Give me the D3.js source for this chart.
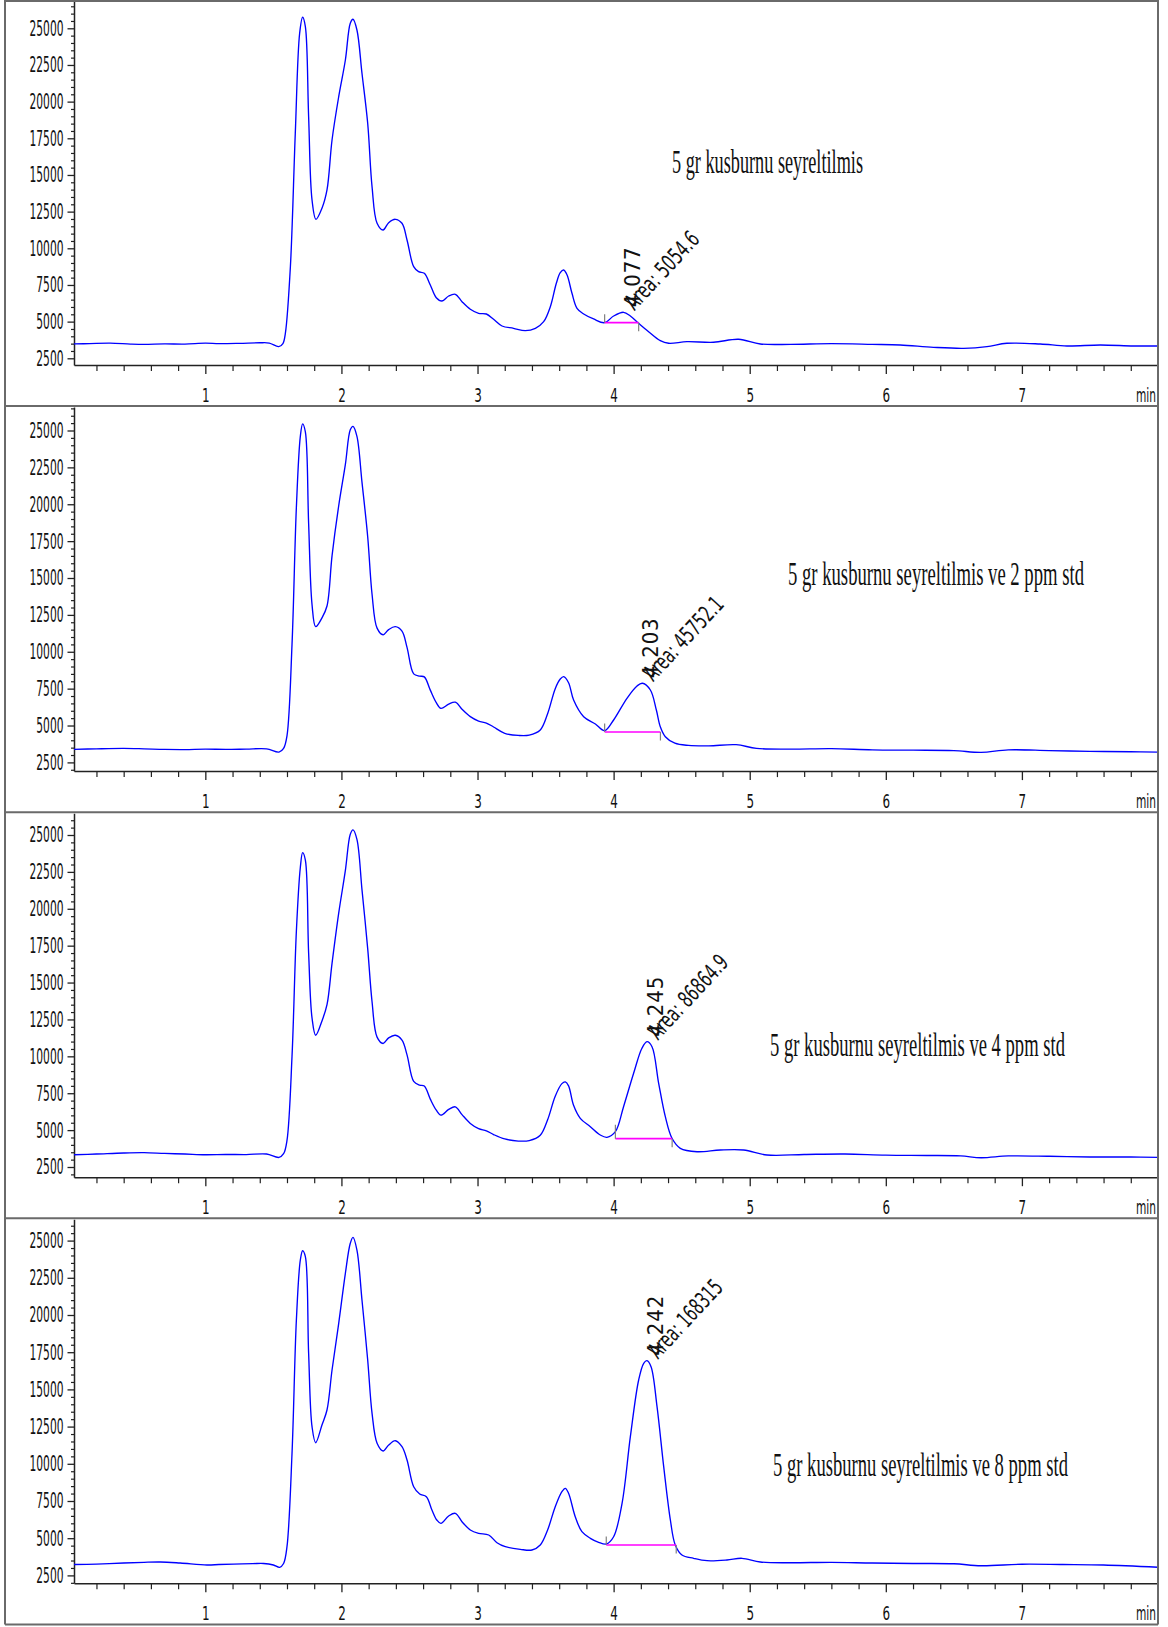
<!DOCTYPE html>
<html>
<head>
<meta charset="utf-8">
<script src="https://cdn.jsdelivr.net/npm/d3@7"></script>
<style>
  html, body { margin: 0; padding: 0; background: #fff; }
  svg { display: block; }
</style>
</head>
<body>
<script>
// ---------------- DATA ----------------
const panelTitles = [
  "5 gr kusburnu seyreltilmis",
  "5 gr kusburnu seyreltilmis ve 2 ppm std",
  "5 gr kusburnu seyreltilmis ve 4 ppm std",
  "5 gr kusburnu seyreltilmis ve 8 ppm std"
];
const rtLabels = ["4.077", "4.203", "4.245", "4.242"];
const areaLabels = ["Area: 5054.6", "Area: 45752.1", "Area: 86864.9", "Area: 168315"];
const apexTime = [4.073, 4.211, 4.245, 4.245];
const apexValue = [5636, 7863, 10992, 16928];
const integStart = [3.934, 3.934, 4.013, 3.946];
const integEnd = [4.184, 4.344, 4.43, 4.46];
const integLevel = [4930, 4560, 4420, 4545];

const yTickValues = [2500, 5000, 7500, 10000, 12500, 15000, 17500, 20000, 22500, 25000];
const yTickLabels = ["2500", "5000", "7500", "10000", "12500", "15000", "17500", "20000", "22500", "25000"];
const xTickValues = [1, 2, 3, 4, 5, 6, 7];
const xTickLabels = ["1", "2", "3", "4", "5", "6", "7"];
const xUnit = "min";
const xDomain = [0.035, 8.0];
const yDomains = [[2043, 26861], [1910, 26586], [1809, 26477], [1969, 26431]];

// Panel 1 : sample only
const time1 = [0.035,0.15,0.3,0.45,0.55,0.7,0.85,1.0,1.1,1.25,1.4,1.47,1.539,1.57,1.588,1.625,1.661,1.693,1.715,1.735,1.759,1.784,1.813,1.857,1.894,1.931,1.98,2.029,2.065,2.085,2.114,2.151,2.193,2.225,2.262,2.306,2.347,2.396,2.445,2.482,2.531,2.567,2.609,2.653,2.697,2.739,2.788,2.837,2.886,2.947,3.008,3.065,3.118,3.18,3.265,3.351,3.425,3.486,3.535,3.579,3.608,3.633,3.658,3.694,3.731,3.78,3.853,3.934,4.0,4.073,4.123,4.184,4.257,4.343,4.404,4.539,4.735,4.918,5.078,5.3,5.6,5.9,6.106,6.351,6.572,6.743,6.89,7.135,7.331,7.576,7.82,8.0];
const signal1 = [3480,3500,3530,3470,3450,3480,3470,3530,3500,3520,3560,3540,3292,3500,4204,8747,17841,24659,25750,25110,18973,13293,11977,12727,13975,17384,20337,22839,25341,25614,24884,21932,18523,14200,11705,11248,11746,11977,11705,10566,8747,8406,8297,7498,6632,6407,6748,6864,6360,5842,5568,5520,5159,4702,4546,4383,4546,4996,6018,7613,8338,8520,8180,6932,5910,5520,5180,4928,5384,5636,5384,4887,4315,3701,3524,3632,3591,3796,3476,3450,3500,3450,3407,3248,3180,3292,3524,3476,3340,3407,3340,3340];

// Panel 2 : sample + 2 ppm std
const time2 = [0.035,0.2,0.4,0.55,0.7,0.85,1.0,1.15,1.3,1.45,1.541,1.575,1.6,1.637,1.669,1.698,1.715,1.735,1.759,1.784,1.811,1.857,1.894,1.931,1.98,2.029,2.065,2.085,2.114,2.151,2.193,2.225,2.262,2.306,2.347,2.396,2.445,2.482,2.531,2.575,2.609,2.653,2.697,2.731,2.788,2.837,2.886,2.947,3.008,3.065,3.118,3.2,3.3,3.38,3.461,3.515,3.571,3.608,3.633,3.669,3.706,3.78,3.866,3.934,4.0,4.098,4.172,4.211,4.27,4.314,4.343,4.38,4.45,4.55,4.7,4.9,5.05,5.3,5.6,5.9,6.2,6.5,6.7,6.9,7.2,7.5,7.8,8.0];
const signal2 = [3380,3420,3450,3420,3380,3370,3400,3380,3400,3420,3200,3450,4300,10500,19800,24600,25450,24900,18700,13200,11700,12300,13100,16500,19900,22700,25050,25280,24600,21500,17800,13900,11600,11150,11500,11700,11400,10300,8500,8350,8300,7400,6550,6160,6450,6580,6100,5600,5300,5170,4900,4470,4330,4350,4700,5800,7500,8150,8310,7900,6730,5598,5103,4649,5375,6846,7680,7863,7408,6053,4920,4242,3800,3650,3620,3700,3450,3400,3430,3350,3330,3300,3180,3350,3300,3250,3220,3200];

// Panel 3 : sample + 4 ppm std
const time3 = [0.035,0.2,0.4,0.55,0.7,0.85,1.0,1.15,1.3,1.45,1.541,1.575,1.6,1.637,1.669,1.698,1.715,1.735,1.759,1.784,1.811,1.857,1.894,1.931,1.98,2.029,2.065,2.085,2.114,2.151,2.193,2.225,2.262,2.306,2.347,2.396,2.445,2.482,2.531,2.575,2.609,2.653,2.697,2.731,2.788,2.837,2.886,2.947,3.008,3.065,3.118,3.2,3.3,3.38,3.461,3.515,3.571,3.62,3.645,3.669,3.705,3.755,3.829,3.902,3.951,4.013,4.073,4.147,4.208,4.245,4.282,4.331,4.38,4.429,4.49,4.613,4.784,4.955,5.127,5.4,5.7,6.0,6.3,6.55,6.7,6.9,7.2,7.5,7.8,8.0];
const signal3 = [3330,3380,3450,3470,3420,3380,3330,3350,3340,3380,3150,3400,4300,10000,18500,22800,23800,23300,17000,12600,11430,12400,13500,16300,19700,22600,25050,25350,24700,21300,17300,13700,11300,10870,11250,11430,11100,10100,8300,8050,7984,7100,6350,6016,6400,6578,6050,5453,5100,4950,4700,4400,4258,4290,4650,5700,7300,8150,8266,8000,6700,5800,5231,4669,4513,4893,6587,8851,10545,10992,10653,8173,5909,4445,3767,3537,3653,3653,3314,3350,3380,3300,3280,3250,3130,3250,3230,3180,3180,3150];

// Panel 4 : sample + 8 ppm std
const time4 = [0.035,0.2,0.4,0.55,0.67,0.816,1.012,1.1,1.208,1.35,1.428,1.5,1.546,1.575,1.6,1.637,1.669,1.698,1.715,1.735,1.759,1.784,1.811,1.857,1.894,1.931,1.98,2.029,2.065,2.085,2.114,2.151,2.193,2.225,2.262,2.306,2.347,2.396,2.445,2.482,2.531,2.575,2.624,2.665,2.701,2.731,2.788,2.837,2.886,2.947,3.008,3.082,3.143,3.204,3.314,3.4,3.461,3.515,3.571,3.62,3.645,3.669,3.718,3.767,3.829,3.89,3.946,4.0,4.062,4.123,4.184,4.221,4.245,4.275,4.319,4.368,4.417,4.453,4.502,4.588,4.686,4.833,4.943,5.078,5.3,5.6,5.9,6.2,6.5,6.7,7.0,7.3,7.6,8.0];
const signal4 = [3230,3260,3330,3380,3400,3330,3200,3230,3260,3290,3300,3200,3044,3300,4429,10705,19663,23695,24320,23917,17425,12492,11417,12607,13615,16303,19441,22801,24817,25220,24367,21007,16975,13393,11377,10860,11263,11552,11149,10255,8461,7970,7789,6895,6223,6001,6492,6673,6109,5551,5329,5215,4697,4429,4254,4207,4543,5551,7117,8125,8353,8017,6445,5437,4993,4724,4610,5100,7345,11821,15631,16753,16928,16525,13837,9805,6223,4543,3871,3649,3488,3535,3649,3400,3350,3380,3330,3300,3280,3150,3250,3230,3200,3050];

const panels = [
  { time: time1, signal: signal1 },
  { time: time2, signal: signal2 },
  { time: time3, signal: signal3 },
  { time: time4, signal: signal4 }
];

// ---------------- LAYOUT ----------------
const W = 1168, H = 1627;
const panelH = 406.1;
const plotLeft = 74, plotRight = 1158, axisY = 365, plotTopLocal = 1;
const titleLayout = [
  { x: 672, y: 173, len: 191 },
  { x: 788, y: 179, len: 296 },
  { x: 770, y: 244, len: 295 },
  { x: 773, y: 258, len: 295 }
];
const narrow = "'Liberation Sans Narrow','Arial Narrow','DejaVu Sans Condensed',sans-serif";
const serif = "'Liberation Serif','Times New Roman',serif";

const svg = d3.select("body").append("svg")
  .attr("width", W).attr("height", H)
  .attr("viewBox", `0 0 ${W} ${H}`);

svg.append("rect").attr("width", W).attr("height", H).attr("fill", "#fff");

const x = d3.scaleLinear().domain(xDomain).range([plotLeft, plotRight]);

const xMinor = d3.range(1, 40).map(i => i * 0.2).filter(v => Math.abs(v - Math.round(v)) > 1e-6 && v < 8);
const yMinor = d3.range(2000, 27001, 500).filter(v => v % 2500 !== 0);

panels.forEach((p, i) => {
  const top = i * panelH;
  const g = svg.append("g").attr("transform", `translate(0,${top})`);
  const dom = yDomains[i];
  const y = d3.scaleLinear().domain(dom).range([axisY, plotTopLocal]);

  // minor y ticks
  const yMin = g.append("g").attr("transform", `translate(${plotLeft},0)`)
    .call(d3.axisLeft(y).tickValues(yMinor.filter(v => v > dom[0] && v < dom[1])).tickSize(3).tickSizeOuter(0).tickFormat(""));
  yMin.select(".domain").remove();
  yMin.selectAll("line").attr("stroke", "#222").attr("stroke-width", 1.2);

  // major y axis
  const yAx = g.append("g").attr("transform", `translate(${plotLeft},0)`)
    .call(d3.axisLeft(y).tickValues(yTickValues).tickSize(6.5).tickSizeOuter(0).tickPadding(4)
      .tickFormat((d, k) => yTickLabels[k]));
  yAx.select(".domain").attr("stroke", "#222").attr("stroke-width", 1.5);
  yAx.selectAll("line").attr("stroke", "#222").attr("stroke-width", 1.3);
  yAx.selectAll("text")
    .attr("font-family", narrow).attr("font-size", 20.5).attr("fill", "#111")
    .attr("dy", "0.34em")
    .attr("textLength", (d, k) => yTickLabels[k].length * 6.8)
    .attr("lengthAdjust", "spacingAndGlyphs");

  // minor x ticks
  const xMin = g.append("g").attr("transform", `translate(0,${axisY})`)
    .call(d3.axisBottom(x).tickValues(xMinor).tickSize(6).tickSizeOuter(0).tickFormat(""));
  xMin.select(".domain").remove();
  xMin.selectAll("line").attr("stroke", "#222").attr("stroke-width", 1.2);

  // major x axis
  const xAx = g.append("g").attr("transform", `translate(0,${axisY})`)
    .call(d3.axisBottom(x).tickValues(xTickValues).tickSize(9).tickSizeOuter(0)
      .tickFormat((d, k) => xTickLabels[k]));
  xAx.select(".domain").attr("stroke", "#222").attr("stroke-width", 1.5);
  xAx.selectAll("line").attr("stroke", "#222").attr("stroke-width", 1.3);
  xAx.selectAll("text")
    .attr("font-family", narrow).attr("font-size", 19.5).attr("fill", "#111")
    .attr("y", 37).attr("dy", "0")
    .attr("textLength", (d, k) => xTickLabels[k].length * 7.6)
    .attr("lengthAdjust", "spacingAndGlyphs");

  g.append("text").text(xUnit)
    .attr("transform", `translate(${plotRight - 2},${axisY + 37}) scale(1,1.25)`)
    .attr("text-anchor", "end")
    .attr("font-family", narrow).attr("font-size", 15.5).attr("fill", "#111")
    .attr("textLength", 20).attr("lengthAdjust", "spacingAndGlyphs");

  // chromatogram trace
  const data = p.time.map((t, k) => [t, p.signal[k]]);
  g.append("path").datum(data)
    .attr("fill", "none").attr("stroke", "#0000ff").attr("stroke-width", 1.35)
    .attr("stroke-linejoin", "round")
    .attr("d", d3.line().x(d => x(d[0])).y(d => y(d[1])).curve(d3.curveCatmullRom.alpha(0.5)));

  // integration baseline
  const bx0 = x(integStart[i]), bx1 = x(integEnd[i]), by = y(integLevel[i]);
  g.append("line").attr("x1", bx0).attr("x2", bx1).attr("y1", by).attr("y2", by)
    .attr("stroke", "#ff00ff").attr("stroke-width", 1.6);
  g.append("line").attr("x1", bx0).attr("x2", bx0).attr("y1", by - (i === 2 ? 14 : 8.5)).attr("y2", by)
    .attr("stroke", "#808080").attr("stroke-width", 1.2);
  g.append("line").attr("x1", bx1).attr("x2", bx1).attr("y1", by).attr("y2", by + 8.5)
    .attr("stroke", "#808080").attr("stroke-width", 1.2);

  // peak annotations
  const ax = x(apexTime[i]), ay = y(apexValue[i]);
  g.append("text").text(rtLabels[i])
    .attr("transform", `translate(${ax + 16},${ay - 5}) rotate(-90)`)
    .attr("font-family", narrow).attr("font-size", 22).attr("fill", "#111")
    .attr("textLength", 60).attr("lengthAdjust", "spacing");
  g.append("text").text(areaLabels[i])
    .attr("transform", `translate(${ax + 11},${ay - 1}) rotate(-47)`)
    .attr("font-family", narrow).attr("font-size", 23).attr("fill", "#111")
    .attr("textLength", areaLabels[i].length * 8.1).attr("lengthAdjust", "spacingAndGlyphs");

  // title (vertically stretched serif)
  const tl = titleLayout[i];
  g.append("text").text(panelTitles[i])
    .attr("transform", `translate(${tl.x},${tl.y}) scale(1,1.55)`)
    .attr("font-family", serif).attr("font-size", 21.5).attr("fill", "#111")
    .attr("textLength", tl.len).attr("lengthAdjust", "spacingAndGlyphs");
});

// frame lines
const frame = svg.append("g").attr("stroke", "#6a6a6a").attr("stroke-width", 2).attr("fill", "none");
frame.append("line").attr("x1", 5).attr("x2", 5).attr("y1", 0).attr("y2", 4 * panelH);
frame.append("line").attr("x1", plotRight).attr("x2", plotRight).attr("y1", 0).attr("y2", 4 * panelH);
d3.range(0, 5).forEach(k => {
  const yy = k === 0 ? 1 : k * panelH;
  frame.append("line").attr("x1", 5).attr("x2", plotRight).attr("y1", yy).attr("y2", yy);
});
</script>
</body>
</html>
